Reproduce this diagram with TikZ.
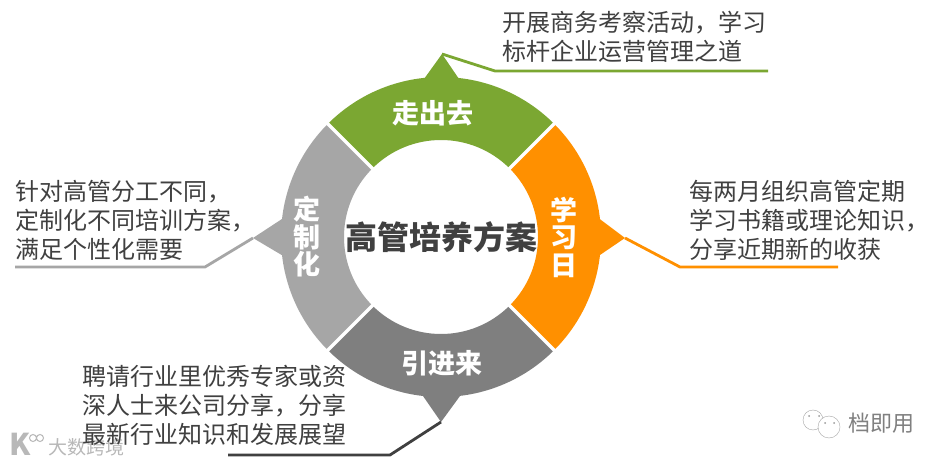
\documentclass[tikz,border=0pt]{standalone}
\usepackage{fontspec}
\setmainfont{Noto Sans CJK SC}
\definecolor{goGreen}{HTML}{7BA732}
\definecolor{dayOrange}{HTML}{FF9000}
\definecolor{planGray}{HTML}{A6A6A6}
\definecolor{hireGray}{HTML}{7F7F7F}
\definecolor{inkGray}{HTML}{404040}
\tikzset{
    note/.style={anchor=west, align=left, text=inkGray, font=\fontsize{24}{29}\selectfont, inner sep=0pt},
    tag/.style={align=center, text=white, font=\fontsize{27}{27.5}\selectfont\bfseries, inner sep=0pt},
    leader/.style={line width=2.8pt, line join=round},
    wmark/.style={text=black!28, inner sep=0pt}
}
\begin{document}
\begin{tikzpicture}[x=1pt, y=1pt]
    \useasboundingbox (0,0) rectangle (945,464);
    \fill[white] (0,0) rectangle (945,464);
    % watermarks
    \node[wmark, font=\fontsize{30}{30}\selectfont\bfseries] (logoK) at (20,20) {K};
    \draw[black!28, line width=1pt] (33,26) circle (3.5) (40,26) circle (3.5);
    \node[wmark, anchor=west, font=\fontsize{19}{20}\selectfont] (logoText) at (48,17) {大数跨境};
    \draw[black!35, fill=white] (813,44) circle (10);
    \draw[black!35, fill=white] (829,37) circle (11);
    \foreach \x/\y in {809/48, 819/48, 825/41, 834/41}
        \fill[black!40] (\x,\y) circle (1);
    \node[wmark, anchor=west, text=black!50, font=\fontsize{22}{24}\selectfont] (markText) at (848,41) {档即用};
    \begin{scope}[shift={(441,227)}]
        \fill[goGreen] (45:160) arc (45:135:160) -- (135:97) arc (135:45:97) -- cycle;
        \fill[dayOrange] (-45:160) arc (-45:45:160) -- (45:97) arc (45:-45:97) -- cycle;
        \fill[hireGray] (225:160) arc (225:315:160) -- (315:97) arc (315:225:97) -- cycle;
        \fill[planGray] (135:160) arc (135:225:160) -- (225:97) arc (225:135:97) -- cycle;
        % the white gaps between the parts
        \foreach \a in {45,135,225,315}
            \draw[white, line width=3.5pt] (\a:94) -- (\a:164);
    \end{scope}
    % pointers
    \coordinate (goTip) at (442,410);
    \coordinate (dayTip) at (625,226);
    \coordinate (hireTip) at (441,42);
    \coordinate (planTip) at (253,226);
    \fill[goGreen] (424,385) -- (goTip) -- (459,385) -- cycle;
    \fill[dayOrange] (597,247) -- (dayTip) -- (597,207) -- cycle;
    \fill[hireGray] (423,68) -- (hireTip) -- (460,68) -- cycle;
    \fill[planGray] (285,247) -- (planTip) -- (285,207) -- cycle;
    % texts
    \node[font=\fontsize{32}{34}\selectfont\bfseries, text=inkGray, inner sep=0pt] (hub) at (441,227) {高管培养方案};
    \node[tag] (goTag) at (433,351) {走出去};
    \node[tag] (dayTag) at (564,227) {学\\习\\日};
    \node[tag] (hireTag) at (442,101) {引进来};
    \node[tag] (planTag) at (307,227) {定\\制\\化};
    \node[note] (goNote) at (502,427) {开展商务考察活动，学习\\标杆企业运营管理之道};
    \node[note] (dayNote) at (689,244) {每两月组织高管定期\\学习书籍或理论知识，\\分享近期新的收获};
    \node[note] (planNote) at (15,244) {针对高管分工不同，\\定制化不同培训方案，\\满足个性化需要};
    \node[note] (hireNote) at (82,59) {聘请行业里优秀专家或资\\深人士来公司分享，分享\\最新行业知识和发展展望};
    % leaders
    \coordinate (goKnee) at (495,393);
    \coordinate (goEnd) at (768,393);
    \coordinate (dayKnee) at (680,197);
    \coordinate (dayEnd) at (838,197);
    \coordinate (planKnee) at (205,197);
    \coordinate (planEnd) at (15,197);
    \coordinate (hireKnee) at (390,9);
    \coordinate (hireEnd) at (228,9);
    \draw[leader, goGreen] (goTip) -- (goKnee) -- (goEnd);
    \draw[leader, dayOrange] (dayTip) -- (dayKnee) -- (dayEnd);
    \draw[leader, planGray] (planTip) -- (planKnee) -- (planEnd);
    \draw[leader, inkGray] (hireTip) -- (hireKnee) -- (hireEnd);
\end{tikzpicture}
\end{document}
